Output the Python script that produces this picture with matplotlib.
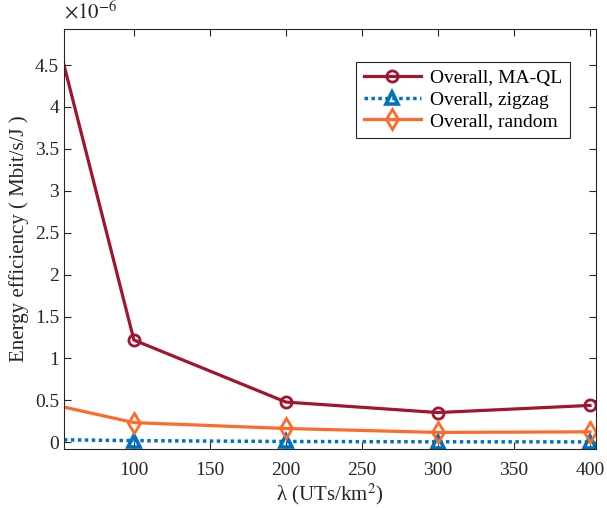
import matplotlib
matplotlib.use("Agg")
import matplotlib.pyplot as plt
from matplotlib.ticker import FuncFormatter

plt.rcParams['font.family'] = ['Liberation Serif', 'DejaVu Serif']
plt.rcParams['mathtext.fontset'] = 'stix'

# data (bit/s/J, shown with a 1e-6 multiplier)
lam = [54, 100, 200, 300, 400]
ee_maql = [4.5e-6, 1.22e-6, 0.48e-6, 0.355e-6, 0.44e-6]
ee_zigzag = [0.03e-6, 0.02e-6, 0.01e-6, 0.006e-6, 0.005e-6]
ee_random = [0.42e-6, 0.235e-6, 0.165e-6, 0.118e-6, 0.125e-6]

fig = plt.figure(figsize=(6.07, 5.08), dpi=100)
ax = fig.add_axes([0.1054, 0.1161, 0.8766, 0.8269])

mk = [1, 2, 3, 4]
ax.plot(lam, ee_maql, color='#A2142F', lw=2.3, marker='o', ms=8, mfc='none',
        mew=2.0, markevery=mk, label='Overall, MA-QL')
ax.plot(lam, ee_zigzag, color='#0072BD', lw=2.5, ls=(0, (1, 1)), marker='^',
        ms=9, mfc='none', mew=2.6, markevery=mk, label='Overall, zigzag')
ax.plot(lam, ee_random, color='#FF6A2A', lw=2.3, marker='d', ms=10, mfc='none',
        mew=2.0, markevery=mk, label='Overall, random')

ax.set_xlim(54, 404)
ax.set_ylim(-0.08e-6, 4.93e-6)
ax.set_xticks([100, 150, 200, 250, 300, 350, 400])
ax.set_yticks([i * 0.5e-6 for i in range(10)])
ax.yaxis.set_major_formatter(FuncFormatter(lambda v, p: f'{v * 1e6:g}'))
ax.text(0.0, 1.012, r'$\times 10^{-6}$', transform=ax.transAxes, fontsize=15,
        color='#262626', ha='left', va='bottom')

ax.tick_params(direction='in', top=True, right=True, labelsize=14,
               colors='#262626', length=5)
ax.tick_params(axis='x', pad=9)
for s in ax.spines.values():
    s.set_color('#262626')
    s.set_linewidth(0.8)

ax.set_xlabel('λ (UTs/km$^2$)', fontsize=15, color='#262626', labelpad=2)
ax.set_ylabel('Energy efficiency ( Mbit/s/J )', fontsize=15, color='#262626',
              labelpad=4)

leg = ax.legend(loc='upper right', bbox_to_anchor=(0.97, 0.945), fontsize=14,
                fancybox=False, framealpha=1, edgecolor='#262626',
                handlelength=2.9, borderpad=0.4, labelspacing=0.2,
                handletextpad=0.5)
leg.get_frame().set_linewidth(0.8)

fig.savefig('out.png', dpi=100)
